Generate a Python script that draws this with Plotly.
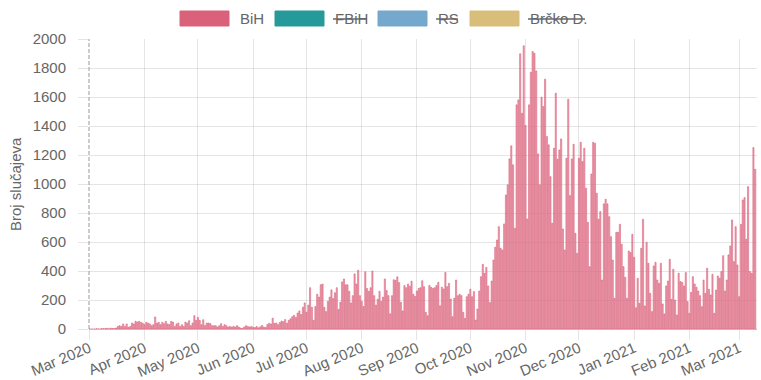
import pandas as pd
import plotly.graph_objects as go

# ---- data (daily new cases, BiH) ----
mar20 = [0, 0, 0, 0, 2, 1, 0, 4, 2, 3, 5, 2, 6, 4, 3, 7, 18, 23, 18, 35, 18, 35, 12, 18, 41, 35, 53, 48, 53, 46, 40]
apr20 = [30, 46, 41, 35, 23, 30, 83, 41, 46, 30, 46, 37, 53, 35, 30, 53, 48, 18, 35, 41, 18, 30, 18, 48, 41, 57, 23, 41, 92, 60]
may20 = [80, 60, 30, 64, 25, 41, 41, 37, 23, 23, 23, 14, 23, 37, 18, 30, 23, 14, 18, 14, 18, 14, 23, 14, 7, 4, 14, 23, 18, 14, 18]
jun20 = [12, 10, 18, 8, 15, 25, 14, 10, 30, 40, 35, 75, 38, 42, 30, 45, 55, 50, 65, 40, 60, 70, 85, 95, 80, 110, 125, 100, 150, 180]
jul20 = [115, 165, 285, 150, 60, 155, 240, 220, 305, 310, 150, 120, 190, 220, 270, 210, 250, 285, 135, 185, 325, 345, 305, 305, 260, 180, 230, 380, 310, 405, 230]
aug20 = [190, 155, 395, 280, 260, 285, 400, 230, 165, 205, 260, 190, 220, 345, 265, 230, 105, 230, 340, 335, 360, 320, 185, 125, 300, 285, 310, 295, 330, 240, 225]
sep20 = [262, 280, 285, 333, 292, 115, 92, 300, 288, 280, 285, 300, 322, 160, 288, 276, 390, 292, 315, 207, 85, 212, 338, 230, 240, 230, 115, 74, 223, 240]
oct20 = [274, 223, 258, 62, 138, 262, 361, 446, 384, 425, 297, 182, 331, 476, 564, 614, 706, 557, 545, 725, 925, 994, 1173, 1263, 1132, 695, 1546, 1580, 1898, 1488, 1953]
nov20 = [1403, 759, 1546, 1771, 1914, 1902, 1780, 1208, 994, 1599, 1534, 1723, 1327, 1270, 1051, 729, 1247, 1626, 1171, 1235, 1311, 690, 545, 1178, 1585, 920, 1173, 1274, 660, 522]
dec20 = [1178, 1288, 1155, 1247, 971, 736, 430, 1069, 1288, 1281, 936, 757, 810, 338, 863, 895, 863, 775, 637, 476, 212, 667, 667, 722, 584, 430, 357, 212, 538, 527, 653]
jan21 = [495, 147, 350, 177, 557, 757, 159, 598, 453, 246, 120, 435, 460, 338, 315, 453, 173, 104, 297, 331, 481, 205, 412, 200, 97, 384, 327, 322, 297, 389, 189]
feb21 = [108, 253, 361, 310, 288, 262, 230, 154, 338, 246, 419, 274, 235, 377, 108, 269, 366, 350, 396, 506, 262, 338, 511, 573, 752, 465, 706, 442]
mar21 = [223, 722, 890, 906, 619, 982, 396, 384, 1251, 1102]

start_date = "2020-03-01"
tick_dates = ["2020-03-01", "2020-04-01", "2020-05-01", "2020-06-01", "2020-07-01", "2020-08-01",
              "2020-09-01", "2020-10-01", "2020-11-01", "2020-12-01", "2021-01-01", "2021-02-01", "2021-03-01"]
tick_labels = ["Mar 2020", "Apr 2020", "May 2020", "Jun 2020", "Jul 2020", "Aug 2020", "Sep 2020",
               "Oct 2020", "Nov 2020", "Dec 2020", "Jan 2021", "Feb 2021", "Mar 2021"]
y_ticks = [0, 200, 400, 600, 800, 1000, 1200, 1400, 1600, 1800, 2000]
y_title = "Broj slučajeva"

series_names = ["BiH", "FBiH", "RS", "Brčko D."]
series_colors = ["#d9627a", "#26999a", "#75a8cd", "#d8be7a"]
series_hidden = [False, True, True, True]

values = mar20 + apr20 + may20 + jun20 + jul20 + aug20 + sep20 + oct20 + nov20 + dec20 + jan21 + feb21 + mar21
dates = pd.date_range(start_date, periods=len(values), freq="D")

FONT = "Arial, Liberation Sans, Helvetica, sans-serif"
GRID = "rgba(0,0,0,0.1)"

fig = go.Figure()
fig.add_trace(go.Bar(
    x=dates, y=values, name=series_names[0],
    marker=dict(color="rgba(233,152,170,0.85)", line=dict(color="#d74f6b", width=0.5)),
    showlegend=False,
))

W, H = 761, 380
L, R, T, B = 89, 4, 39, 51
pw, ph = W - L - R, H - T - B

fig.update_layout(
    width=W, height=H,
    margin=dict(l=L, r=R, t=T, b=B, autoexpand=False),
    paper_bgcolor="white", plot_bgcolor="white",
    bargap=0.34,
    font=dict(family=FONT, size=15, color="#666"),
    xaxis=dict(
        type="date", automargin=False,
        range=["2020-02-29 20:00", "2021-03-11 00:00"],
        tickvals=tick_dates, ticktext=tick_labels, tickangle=-23,
        showgrid=True, gridcolor=GRID, gridwidth=1,
        ticks="outside", ticklen=10, tickcolor=GRID, ticklabelstandoff=-6,
        showline=False, zeroline=False,
        tickfont=dict(size=15, color="#666"),
    ),
    yaxis=dict(
        automargin=False,
        range=[0, 2000], tickvals=y_ticks,
        showgrid=True, gridcolor=GRID, gridwidth=1,
        ticks="outside", ticklen=10, tickcolor=GRID, ticklabelstandoff=9,
        showline=False, zeroline=True, zerolinecolor="rgba(0,0,0,0.25)", zerolinewidth=1,
        tickfont=dict(size=15, color="#666"),
    ),
)

def px_x(px):
    return (px - L) / pw

def px_y(py):
    return (H - B - py) / ph

# y-axis title
fig.add_annotation(xref="paper", yref="paper", x=px_x(15), y=px_y(184),
                   xanchor="center", yanchor="middle", text=y_title, textangle=-90,
                   showarrow=False, font=dict(size=15, color="#666", family=FONT))

# dashed left border line
fig.add_shape(type="line", xref="paper", yref="paper", x0=0, x1=0, y0=0, y1=1,
              line=dict(color="rgba(0,0,0,0.4)", width=1, dash="4px,2px"))

# manual legend (Chart.js style: box + label, hidden series struck through)
box_lefts = [180, 275, 378, 470]
text_lefts = [238, 333, 436, 528]
text_widths = [24, 33, 22, 57]
box_w, box_top, box_bot = 49, 11, 26
for name, col, hid, bx, tx, tw in zip(series_names, series_colors, series_hidden, box_lefts, text_lefts, text_widths):
    fig.add_shape(type="rect", xref="paper", yref="paper",
                  x0=px_x(bx), x1=px_x(bx + box_w), y0=px_y(box_bot), y1=px_y(box_top),
                  fillcolor=col, line=dict(color=col, width=1))
    fig.add_annotation(xref="paper", yref="paper", x=px_x(tx), y=px_y(18.5),
                       xanchor="left", yanchor="middle", text=name, showarrow=False,
                       font=dict(size=15, color="#666", family=FONT))
    if hid:
        fig.add_shape(type="line", xref="paper", yref="paper",
                      x0=px_x(tx), x1=px_x(tx + tw), y0=px_y(19), y1=px_y(19),
                      line=dict(color="#666", width=1.5))

fig.write_html("out.html", config={"displayModeBar": False},
               post_script="document.body.style.margin='0';")
